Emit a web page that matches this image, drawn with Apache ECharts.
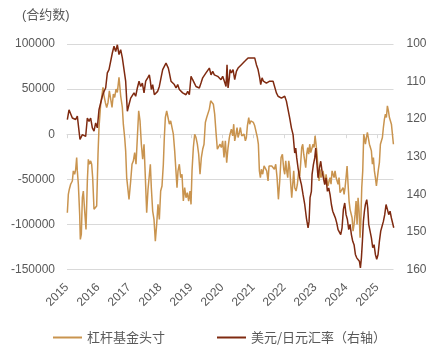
<!DOCTYPE html>
<html><head><meta charset="utf-8">
<script src="https://cdn.jsdelivr.net/npm/echarts@6/dist/echarts.min.js"></script>
<style>html,body{margin:0;padding:0;background:#fff}#c{width:436px;height:355px}</style>
</head><body><div id="c"></div>
<script>
const yearTicks = [2015,2016,2017,2018,2019,2020,2021,2022,2023,2024,2025];
const leftTitle = '(合约数)';
const posName = '杠杆基金头寸';
const fxName = '美元/日元汇率（右轴）';

// Leveraged funds position (contracts), left axis
const posDates = [
2015.011,2015.043,2015.075,2015.118,2015.172,2015.204,2015.247,2015.280,2015.312,2015.333,2015.366,2015.409,2015.430,2015.462,2015.495,2015.527,2015.570,2015.613,2015.656,2015.688,2015.720,2015.763,2015.796,2015.828,2015.871,2015.925,2015.957,
2016.000,2016.032,2016.086,2016.118,2016.161,2016.194,2016.237,2016.280,2016.323,2016.366,2016.409,2016.452,2016.495,2016.538,2016.581,2016.624,2016.677,2016.731,2016.785,2016.817,2016.860,2016.892,2016.925,2016.957,
2017.000,2017.054,2017.097,2017.140,2017.183,2017.226,2017.269,2017.312,2017.355,2017.398,2017.441,2017.484,2017.527,2017.570,2017.613,2017.656,2017.688,2017.720,2017.763,2017.806,2017.849,2017.892,2017.935,2017.978,
2018.021,2018.064,2018.107,2018.139,2018.172,2018.215,2018.258,2018.301,2018.344,2018.387,2018.430,2018.473,2018.516,2018.548,2018.580,2018.623,2018.666,2018.709,2018.752,2018.795,2018.838,2018.881,2018.924,2018.967,
2019.000,2019.032,2019.075,2019.118,2019.161,2019.204,2019.247,2019.290,2019.333,2019.376,2019.419,2019.462,2019.505,2019.548,2019.591,2019.634,2019.677,2019.720,2019.763,2019.806,2019.849,2019.892,2019.935,2019.978,
2020.021,2020.064,2020.107,2020.150,2020.194,2020.236,2020.258,2020.301,2020.344,2020.377,2020.409,2020.452,2020.484,2020.517,2020.559,2020.592,2020.635,2020.667,2020.710,2020.753,2020.785,2020.818,2020.861,2020.893,2020.925,2020.968,
2021.011,2021.054,2021.097,2021.140,2021.172,2021.205,2021.237,2021.269,2021.312,2021.355,2021.398,2021.441,2021.484,2021.516,2021.559,2021.603,2021.646,2021.689,2021.732,2021.775,2021.818,2021.861,2021.904,2021.947,2021.990,
2022.022,2022.054,2022.086,2022.119,2022.151,2022.183,2022.216,2022.248,2022.280,2022.312,2022.344,2022.387,2022.430,2022.474,2022.506,2022.538,2022.570,2022.603,2022.635,2022.667,2022.699,2022.731,2022.764,2022.796,2022.828,2022.861,2022.904,2022.936,2022.968,
2023.000,2023.032,2023.065,2023.097,2023.129,2023.162,2023.194,2023.226,2023.258,2023.291,2023.323,2023.355,2023.387,2023.420,2023.452,2023.484,2023.516,2023.549,2023.581,2023.613,2023.645,2023.678,2023.710,2023.742,2023.774,2023.807,2023.839,2023.871,2023.904,2023.936,2023.968,
2024.000,2024.033,2024.065,2024.097,2024.129,2024.162,2024.194,2024.226,2024.258,2024.291,2024.323,2024.355,2024.387,2024.420,2024.452,2024.473,2024.506,2024.538,2024.570,2024.592,2024.624,2024.656,2024.688,2024.721,2024.753,2024.785,2024.817,2024.850,2024.882,2024.914,2024.946,2024.979,
2025.011,2025.043,2025.075,2025.108,2025.140,2025.172,2025.204,2025.237,2025.269,2025.301,2025.333,2025.366,2025.398,2025.430,2025.463,2025.495,2025.527
];
const posValues = [
-87000,-66700,-61000,-55500,-51900,-40700,-44400,-38900,-25900,-40700,-55500,-88900,-116700,-111100,-70400,-63000,-85200,-105600,-51900,-27800,-33300,-29600,-33300,-48100,-83300,-85200,-79600,
-22200,7400,33300,40700,51900,42600,35200,29600,35200,48100,38900,29600,44400,40700,50000,46300,63000,42600,29600,11100,-3700,-18500,-48100,-50000,
-72200,-51900,-33300,-29600,-20400,-33300,-3700,25900,14800,-11100,-27800,-11100,-48100,-87000,-61000,-63000,-33300,-59300,-85200,-94400,-118500,-100000,-77800,-94400,
-63000,-57400,-33300,-3700,18500,25900,18500,11100,14800,7400,0,-18500,-20400,-59300,-40700,-33300,-48100,-44400,-74100,-59300,-70400,-64800,-74100,-63000,
-77800,-40700,-14800,0,-3700,-11100,-22200,-44400,-25900,-16700,-11100,13000,18500,20400,27800,37000,35200,33300,22200,1900,-16700,-18500,-11100,-14800,
-7400,-25900,-7400,-31500,-14800,-3700,0,5600,-1900,11100,-7400,0,7400,-3700,1900,7400,-1900,-3700,0,-7400,-3700,9300,18500,11100,14800,16700,
13000,9300,7400,-3700,-11100,-40700,-48100,-38900,-44400,-35200,-37000,-40700,-51900,-35200,-33300,-35200,-33300,-38900,-33300,-48100,-72200,-51900,-25900,-22200,-38900,
-44400,-29600,-40700,-48100,-29600,-37000,-55500,-70400,-55500,-40700,-59300,-63000,-55500,-40700,-46300,-31500,-14800,-11100,-22200,-29600,-37000,-22200,-14800,-22200,-11100,-20400,-20400,-11100,-14800,
-1900,-11100,-22200,-40700,-51900,-38900,-48100,-44400,-40700,-48100,-55500,-44400,-51900,-57400,-51900,-48100,-55500,-40700,-44400,-48100,-40700,-48100,-48100,-55500,-48100,-64800,-63000,-63000,-59300,-66700,-59300,
-48100,-35200,-55500,-74100,-83300,-81500,-92600,-107400,-100000,-88900,-74100,-100000,-70400,-85200,-114800,-100000,-59300,-40700,0,-3700,-11100,-3700,1900,0,-11100,-14800,-18500,-33300,-25900,-40700,-48100,-57400,
-48100,-38900,-31500,-11100,-13000,-3700,7400,16700,22200,18500,31500,25900,18500,16700,11100,11100,-11100
];

// USD/JPY, right axis (inverted)
const fxDates = [
2015.011,2015.065,2015.118,2015.172,2015.226,2015.280,2015.333,2015.387,2015.419,2015.495,2015.548,2015.602,2015.656,2015.710,2015.763,2015.817,2015.871,2015.925,2015.978,
2016.032,2016.086,2016.140,2016.194,2016.247,2016.301,2016.355,2016.409,2016.462,2016.516,2016.570,2016.624,2016.677,2016.731,2016.785,2016.839,2016.892,2016.946,
2017.000,2017.054,2017.108,2017.161,2017.215,2017.269,2017.323,2017.376,2017.430,2017.484,2017.538,2017.602,2017.656,2017.688,2017.720,2017.763,2017.817,2017.871,2017.924,2017.978,
2018.032,2018.086,2018.139,2018.193,2018.225,2018.268,2018.301,2018.354,2018.408,2018.462,2018.516,2018.570,2018.623,2018.677,2018.731,2018.785,2018.838,2018.892,2018.946,
2019.000,2019.053,2019.107,2019.161,2019.215,2019.268,2019.322,2019.376,2019.430,2019.483,2019.537,2019.591,2019.645,2019.699,2019.752,2019.806,2019.860,2019.914,2019.967,
2020.021,2020.075,2020.129,2020.161,2020.194,2020.236,2020.258,2020.301,2020.355,2020.409,2020.463,2020.517,2020.570,2020.624,2020.678,2020.732,2020.785,2020.839,2020.893,2020.947,
2021.000,2021.054,2021.108,2021.162,2021.215,2021.248,2021.291,2021.334,2021.377,2021.431,2021.484,2021.538,2021.592,2021.646,2021.699,2021.753,2021.807,2021.861,2021.915,2021.968,
2022.022,2022.076,2022.129,2022.183,2022.237,2022.291,2022.344,2022.377,2022.409,2022.452,2022.506,2022.560,2022.613,2022.667,2022.721,2022.775,2022.807,2022.839,2022.882,2022.904,2022.947,2022.990,
2023.022,2023.054,2023.097,2023.140,2023.183,2023.226,2023.269,2023.312,2023.355,2023.398,2023.441,2023.484,2023.527,2023.570,2023.613,2023.656,2023.699,2023.742,2023.785,2023.828,2023.871,2023.914,2023.957,
2024.000,2024.043,2024.086,2024.129,2024.172,2024.215,2024.258,2024.301,2024.344,2024.387,2024.430,2024.463,2024.495,2024.527,2024.559,2024.592,2024.624,2024.667,2024.699,2024.731,2024.774,2024.817,2024.860,2024.903,2024.946,2024.989,
2025.032,2025.075,2025.118,2025.161,2025.204,2025.247,2025.290,2025.333,2025.376,2025.419,2025.462,2025.505,2025.538
];
const fxValues = [
120.1,117.5,117.9,119.7,119.2,120.1,119.2,119.7,125.4,124.1,124.1,124.6,119.7,120.6,119.7,122.3,123.2,121.0,122.3,
117.5,117.0,113.9,112.6,111.7,107.7,106.8,107.3,102.4,100.6,102.0,100.2,102.8,101.5,103.7,103.3,109.9,117.9,
116.1,114.4,114.8,113.0,113.9,111.7,109.9,111.3,110.4,113.0,109.9,109.0,108.2,109.9,112.1,110.8,113.5,113.0,112.6,111.3,
109.0,106.8,106.4,105.1,104.6,106.4,107.7,109.9,110.4,110.8,111.7,110.8,112.1,111.7,113.0,112.6,113.5,112.6,113.5,
108.6,109.5,110.4,111.3,110.8,111.7,110.4,109.0,108.6,107.7,107.3,106.4,108.2,107.3,108.2,108.6,108.6,109.0,109.5,
108.6,109.9,111.3,105.5,111.7,109.0,106.8,107.7,106.8,109.5,107.3,106.4,105.9,105.5,105.1,104.6,104.2,103.7,103.3,103.7,
103.3,103.7,105.5,106.8,109.0,110.8,109.0,109.9,109.5,110.4,110.8,109.9,109.5,109.9,110.4,113.0,113.9,113.5,114.4,114.8,
113.9,115.2,114.8,119.7,122.3,124.1,129.0,127.7,130.3,133.0,135.6,137.4,140.1,142.7,146.3,148.9,147.2,140.9,139.2,134.7,132.1,130.3,
127.7,131.2,135.6,133.0,131.2,133.9,135.6,137.4,135.6,139.2,138.3,140.1,142.7,144.5,145.4,146.3,147.6,149.4,148.9,150.7,148.9,144.0,142.3,
145.4,146.7,149.4,148.0,150.7,152.5,153.4,156.0,156.9,157.3,157.8,159.6,156.9,152.5,147.2,144.5,142.7,141.4,143.6,148.0,149.8,151.6,154.2,153.4,156.0,157.3,
156.0,152.5,149.8,148.5,147.2,145.4,142.7,144.0,145.4,144.5,146.3,146.7,148.9
];

const pair = (xs, ys) => xs.map((x, i) => [x, ys[i]]);
const grayText = '#595959';
const gridGray = '#D9D9D9';
const numFont = 'Liberation Sans, Noto Sans CJK SC, sans-serif';
const cjkFont = 'Noto Sans CJK SC, Liberation Sans, sans-serif';
const xMin = 2015, xMax = 2025.53;

const chart = echarts.init(document.getElementById('c'), null, {renderer: 'canvas'});
chart.setOption({
  animation: false,
  backgroundColor: '#fff',
  graphic: [{
    type: 'text', left: 22, top: 9,
    style: {text: leftTitle, fill: grayText, fontSize: 13, fontFamily: numFont}
  }],
  grid: {left: 67, right: 42.5, top: 44, bottom: 85.5, containLabel: false},
  legend: {
    left: 53, top: 331, padding: 0,
    icon: 'rect', itemWidth: 29, itemHeight: 2, itemGap: 52,
    textStyle: {color: grayText, fontSize: 13, fontFamily: cjkFont},
    data: [posName, fxName]
  },
  xAxis: [
    {
      type: 'value', min: xMin, max: xMax, position: 'bottom',
      axisLine: {show: false, onZero: false},
      axisTick: {show: false},
      splitLine: {show: false},
      axisLabel: {
        customValues: yearTicks, rotate: 45, margin: 16,
        color: grayText, fontSize: 12, fontFamily: numFont,
        formatter: v => String(v)
      }
    },
    {
      type: 'value', min: xMin, max: xMax, position: 'bottom',
      axisLine: {show: true, onZero: true, onZeroAxisIndex: 0, lineStyle: {color: gridGray, width: 1}},
      axisTick: {show: true, customValues: yearTicks, length: 4, lineStyle: {color: gridGray, width: 1}},
      axisLabel: {show: false},
      splitLine: {show: false}
    }
  ],
  yAxis: [
    {
      type: 'value', min: -150000, max: 100000, interval: 50000, position: 'left',
      axisLine: {show: false}, axisTick: {show: false},
      axisLabel: {color: grayText, fontSize: 12, fontFamily: numFont, margin: 12, formatter: v => String(v)},
      splitLine: {lineStyle: {color: gridGray, width: 1}}
    },
    {
      type: 'value', min: 100, max: 160, interval: 10, inverse: true, position: 'right',
      axisLine: {show: false}, axisTick: {show: false},
      axisLabel: {color: grayText, fontSize: 12, fontFamily: numFont, margin: 13, formatter: v => String(v)},
      splitLine: {show: false}
    }
  ],
  series: [
    {
      name: posName, type: 'line', xAxisIndex: 0, yAxisIndex: 0,
      data: pair(posDates, posValues), showSymbol: false, symbol: 'none',
      lineStyle: {color: '#C9944F', width: 1.5}, itemStyle: {color: '#C9944F'}
    },
    {
      name: fxName, type: 'line', xAxisIndex: 0, yAxisIndex: 1,
      data: pair(fxDates, fxValues), showSymbol: false, symbol: 'none',
      lineStyle: {color: '#7F2A10', width: 1.5}, itemStyle: {color: '#7F2A10'}
    }
  ]
});
</script>
</body></html>
